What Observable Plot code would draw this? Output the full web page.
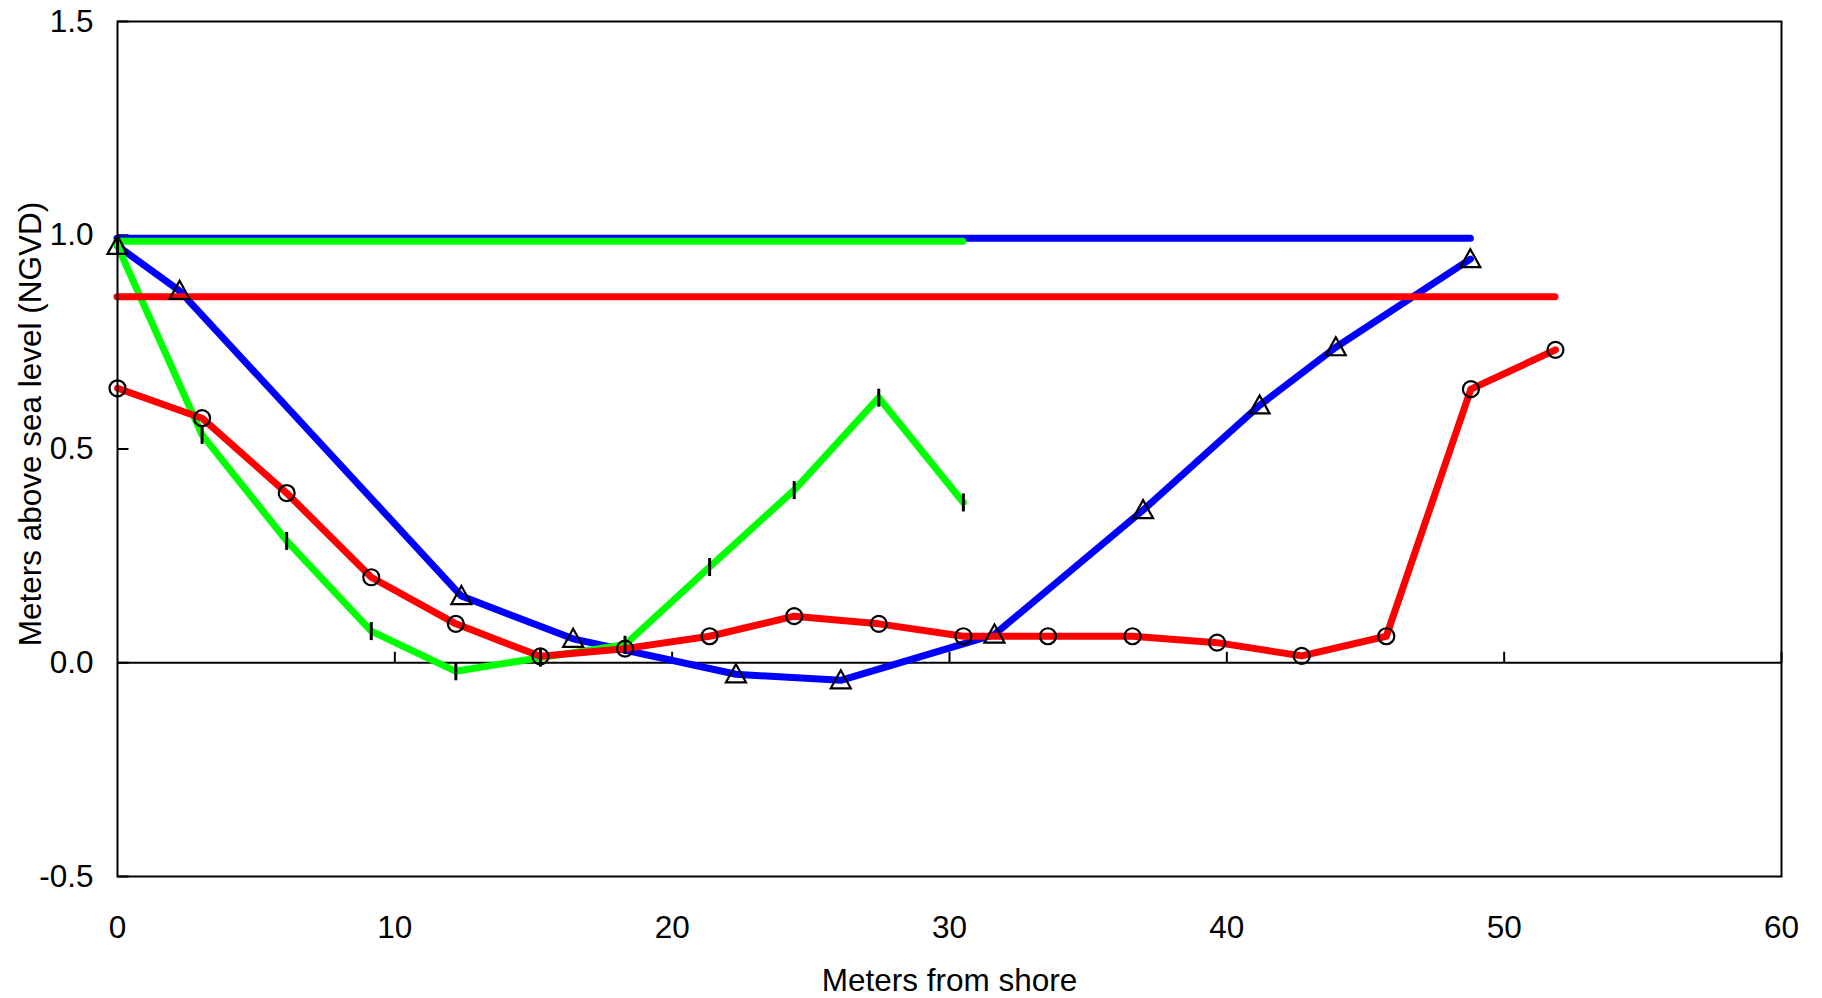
<!DOCTYPE html>
<html><head><meta charset="utf-8">
<script src="https://cdn.jsdelivr.net/npm/d3@7"></script>
<script src="https://cdn.jsdelivr.net/npm/@observablehq/plot@0.6"></script>
<style>html,body{margin:0;padding:0;background:#fff;} svg{display:block}</style>
</head><body><div id="chart"></div>
<script>
// Red transect (circles)
const redX = [0, 3.05, 6.1, 9.15, 12.2, 15.25, 18.3, 21.35, 24.4, 27.45, 30.5, 33.55, 36.6, 39.65, 42.7, 45.75, 48.8, 51.85];
const redY = [0.642, 0.572, 0.397, 0.200, 0.091, 0.015, 0.033, 0.062, 0.109, 0.091, 0.062, 0.062, 0.062, 0.047, 0.016, 0.062, 0.640, 0.732];
// Green transect (vertical bar markers)
const greenX = [0, 3.05, 6.1, 9.15, 12.2, 15.25, 18.3, 21.35, 24.4, 27.45, 30.5];
const greenY = [0.975, 0.533, 0.285, 0.074, -0.020, 0.012, 0.042, 0.224, 0.404, 0.620, 0.375];
// Blue transect (triangles)
const blueX = [0, 2.24, 12.4, 16.43, 22.3, 26.08, 31.62, 36.98, 41.18, 43.93, 48.78];
const blueY = [0.975, 0.870, 0.156, 0.056, -0.027, -0.041, 0.066, 0.357, 0.602, 0.738, 0.944];
// Water levels
const levelName = ["blue", "green", "red"];
const levelY = [0.993, 0.986, 0.856];
const levelStart = [0, 0, 0];
const levelEnd = [48.8, 30.5, 51.85];
// Ticks
const xTicks = [0, 10, 20, 30, 40, 50, 60];
const xInnerTicks = [10, 20, 30, 40, 50, 60];
const yTicks = [-0.5, 0, 0.5, 1.0, 1.5];

const colors = {red: "#ff0000", green: "#00ff00", blue: "#0000ff"};

const red = redX.map((x, i) => ({x, y: redY[i]}));
const green = greenX.map((x, i) => ({x, y: greenY[i]}));
const blue = blueX.map((x, i) => ({x, y: blueY[i]}));
const levels = levelName.map((n, i) => ({n, y: levelY[i], x1: levelStart[i], x2: levelEnd[i]}));

const vbar = {draw(ctx) { ctx.moveTo(0, -9); ctx.lineTo(0, 9); }};
const tri = {draw(ctx) { ctx.moveTo(0, -10); ctx.lineTo(10, 8); ctx.lineTo(-10, 8); ctx.closePath(); }};
const upTick = {draw(ctx) { ctx.moveTo(0, 0); ctx.lineTo(0, -11); }};
const rightTick = {draw(ctx) { ctx.moveTo(0, 0); ctx.lineTo(11, 0); }};

const lineOpts = {x: "x", y: "y", strokeWidth: 7, strokeLinejoin: "round", strokeLinecap: "round"};

const chart = Plot.plot({
  width: 1822,
  height: 998,
  marginLeft: 117,
  marginRight: 41,
  marginTop: 21,
  marginBottom: 122,
  style: {fontFamily: "'Liberation Sans', Arial, sans-serif", fontSize: "31.5px", color: "black", background: "white"},
  x: {domain: [0, 60]},
  y: {domain: [-0.5, 1.5]},
  marks: [
    Plot.ruleY([0], {stroke: "black", strokeWidth: 2}),
    Plot.dot(xInnerTicks, {x: d => d, y: () => 0, symbol: upTick, stroke: "black", strokeWidth: 2, fill: "none"}),
    Plot.dot(yTicks, {x: () => 0, y: d => d, symbol: rightTick, stroke: "black", strokeWidth: 2, fill: "none"}),
    Plot.line(blue, {...lineOpts, stroke: colors.blue}),
    Plot.line(green, {...lineOpts, stroke: colors.green}),
    Plot.line(red, {...lineOpts, stroke: colors.red}),
    Plot.ruleY(levels, {y: "y", x1: "x1", x2: "x2", stroke: d => colors[d.n], strokeWidth: 7, strokeLinecap: "round"}),
    Plot.dot(blue, {x: "x", y: "y", symbol: tri, stroke: "black", strokeWidth: 2.2, fill: "none"}),
    Plot.dot(green, {x: "x", y: "y", symbol: vbar, stroke: "black", strokeWidth: 3, fill: "none"}),
    Plot.dot(red, {x: "x", y: "y", r: 8, stroke: "black", strokeWidth: 2.2, fill: "none"}),
    Plot.frame({stroke: "black", strokeWidth: 2}),
    Plot.axisX(xTicks, {tickSize: 0, tickPadding: 39, label: null}),
    Plot.axisY(yTicks, {tickSize: 0, tickPadding: 24, tickFormat: d => d.toFixed(1), label: null}),
    Plot.text(["Meters from shore"], {text: d => d, frameAnchor: "bottom", dy: 114, fill: "black"}),
    Plot.text(["Meters above sea level (NGVD)"], {text: d => d, frameAnchor: "left", textAnchor: "middle", rotate: -90, dx: -87, dy: -25, fill: "black"})
  ]
});
document.getElementById("chart").appendChild(chart);
</script>
</body></html>
